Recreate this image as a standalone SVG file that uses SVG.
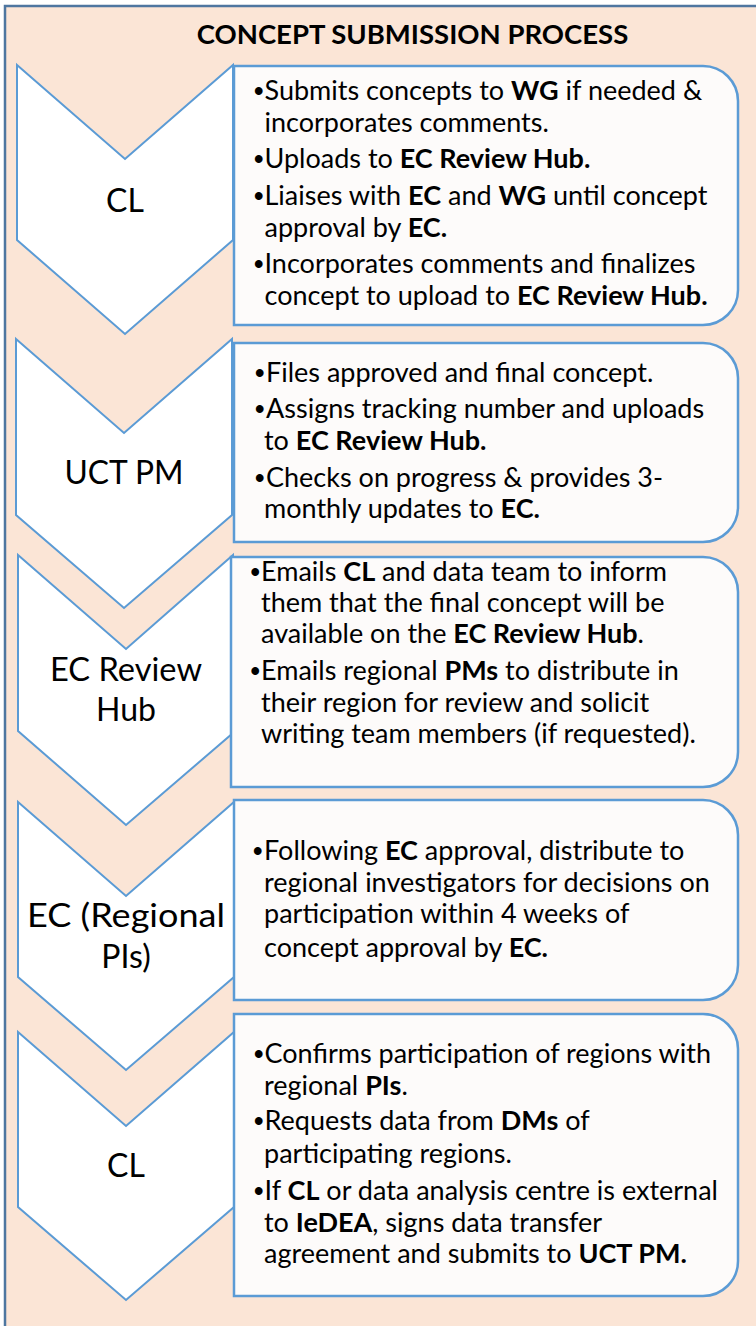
<svg xmlns="http://www.w3.org/2000/svg" width="756" height="1326" viewBox="0 0 756 1326">
<style>
.bg{fill:#FBE5D6;stroke:#4E76A0;stroke-width:2.5}
.chev{fill:#FFFFFF;stroke:#5B9BD5;stroke-width:2}
.box{fill:#FDFBFA;stroke:#5B9BD5;stroke-width:2.5}
text{font-family:Lato,"Open Sans","DejaVu Sans",sans-serif;fill:#000}
.t{font-size:27px}
.lab{font-size:32px;text-anchor:middle}
.title{font-size:27.5px;font-weight:700;text-anchor:middle}
.b{font-weight:700}
.d{font-family:"Liberation Sans",Arial,sans-serif;font-weight:700}
</style>
<rect class="bg" x="5" y="6" width="800" height="1400"/>
<text class="title" x="412.5" y="44">CONCEPT SUBMISSION PROCESS</text>
<g id="step1">
<polygon class="chev" points="17,65 125,159 233,65 233,240 125,334 17,240"/>
<text class="lab" x="125" y="212">CL</text>
<path class="box" d="M234,66 H703 A35,35 0 0 1 738,101 V290 A35,35 0 0 1 703,325 H234 Z"/>
<text class="t"><tspan class="d" x="254" y="100">•</tspan><tspan x="264.5">Submits concepts to </tspan><tspan class="b">WG</tspan><tspan> if needed &amp;</tspan></text>
<text class="t" x="264.5" y="132">incorporates comments.</text>
<text class="t"><tspan class="d" x="254" y="168">•</tspan><tspan x="264.5">Uploads to </tspan><tspan class="b">EC Review Hub.</tspan></text>
<text class="t"><tspan class="d" x="254" y="205">•</tspan><tspan x="264.5">Liaises with </tspan><tspan class="b">EC</tspan><tspan> and </tspan><tspan class="b">WG</tspan><tspan> until concept</tspan></text>
<text class="t"><tspan x="264.5" y="237">approval by </tspan><tspan class="b">EC.</tspan></text>
<text class="t"><tspan class="d" x="254" y="273">•</tspan><tspan x="264.5">Incorporates comments and finalizes</tspan></text>
<text class="t"><tspan x="264.5" y="305">concept to upload to </tspan><tspan class="b">EC Review Hub.</tspan></text>
</g>
<g id="step2">
<polygon class="chev" points="16,339 124,433 232,339 232,515 124,608 16,515"/>
<text class="lab" x="124" y="484" textLength="119" lengthAdjust="spacingAndGlyphs">UCT PM</text>
<path class="box" d="M234,343 H703 A35,35 0 0 1 738,378 V507 A35,35 0 0 1 703,542 H234 Z"/>
<text class="t"><tspan class="d" x="255" y="382">•</tspan><tspan x="266">Files approved and final concept.</tspan></text>
<text class="t"><tspan class="d" x="255" y="418">•</tspan><tspan x="266">Assigns tracking number and uploads</tspan></text>
<text class="t"><tspan x="264" y="450">to </tspan><tspan class="b">EC Review Hub.</tspan></text>
<text class="t"><tspan class="d" x="255" y="487">•</tspan><tspan x="266">Checks on progress &amp; provides 3-</tspan></text>
<text class="t"><tspan x="264" y="518">monthly updates to </tspan><tspan class="b">EC.</tspan></text>
</g>
<g id="step3">
<polygon class="chev" points="18,555 126,649 233,555 233,733 126,825 18,731"/>
<text class="lab" x="126" y="681" textLength="152" lengthAdjust="spacingAndGlyphs">EC Review</text>
<text class="lab" x="126" y="721">Hub</text>
<path class="box" d="M231,557 H703 A35,35 0 0 1 738,592 V752 A35,35 0 0 1 703,787 H231 Z"/>
<text class="t"><tspan class="d" x="250.5" y="581">•</tspan><tspan x="261">Emails </tspan><tspan class="b">CL</tspan><tspan> and data team to inform</tspan></text>
<text class="t" x="261" y="612">them that the final concept will be</text>
<text class="t"><tspan x="261" y="643">available on the </tspan><tspan class="b">EC Review Hub</tspan><tspan>.</tspan></text>
<text class="t"><tspan class="d" x="250.5" y="680">•</tspan><tspan x="261">Emails regional </tspan><tspan class="b">PMs</tspan><tspan> to distribute in</tspan></text>
<text class="t" x="261" y="712">their region for review and solicit</text>
<text class="t" x="261" y="743">writing team members (if requested).</text>
</g>
<g id="step4">
<polygon class="chev" points="18,802 126,896 234,802 234,977 126,1070 18,977"/>
<text class="lab" x="126" y="927" textLength="198" lengthAdjust="spacingAndGlyphs">EC (Regional</text>
<text class="lab" x="126" y="968">PIs)</text>
<path class="box" d="M234,800 H703 A35,35 0 0 1 738,835 V965 A35,35 0 0 1 703,1000 H234 Z"/>
<text class="t"><tspan class="d" x="253" y="860">•</tspan><tspan x="264">Following </tspan><tspan class="b">EC</tspan><tspan> approval, distribute to</tspan></text>
<text class="t" x="264" y="892">regional investigators for decisions on</text>
<text class="t" x="264" y="923">participation within 4 weeks of</text>
<text class="t"><tspan x="264" y="957">concept approval by </tspan><tspan class="b">EC.</tspan></text>
</g>
<g id="step5">
<polygon class="chev" points="18,1032 126,1126 234,1032 234,1207 126,1300 18,1207"/>
<text class="lab" x="126" y="1177">CL</text>
<path class="box" d="M234,1014 H703 A35,35 0 0 1 738,1049 V1261 A35,35 0 0 1 703,1296 H234 Z"/>
<text class="t"><tspan class="d" x="254" y="1063">•</tspan><tspan x="264.5">Confirms participation of regions with</tspan></text>
<text class="t"><tspan x="264" y="1095">regional </tspan><tspan class="b">PIs</tspan><tspan>.</tspan></text>
<text class="t"><tspan class="d" x="254" y="1130">•</tspan><tspan x="264.5">Requests data from </tspan><tspan class="b">DMs</tspan><tspan> of</tspan></text>
<text class="t" x="264" y="1163">participating regions.</text>
<text class="t"><tspan class="d" x="254" y="1200">•</tspan><tspan x="264.5">If </tspan><tspan class="b">CL</tspan><tspan> or data analysis centre is external</tspan></text>
<text class="t"><tspan x="264" y="1232">to </tspan><tspan class="b">IeDEA</tspan><tspan>, signs data transfer</tspan></text>
<text class="t"><tspan x="264" y="1263">agreement and submits to </tspan><tspan class="b">UCT PM.</tspan></text>
</g>
<g id="connectors"/>
</svg>
